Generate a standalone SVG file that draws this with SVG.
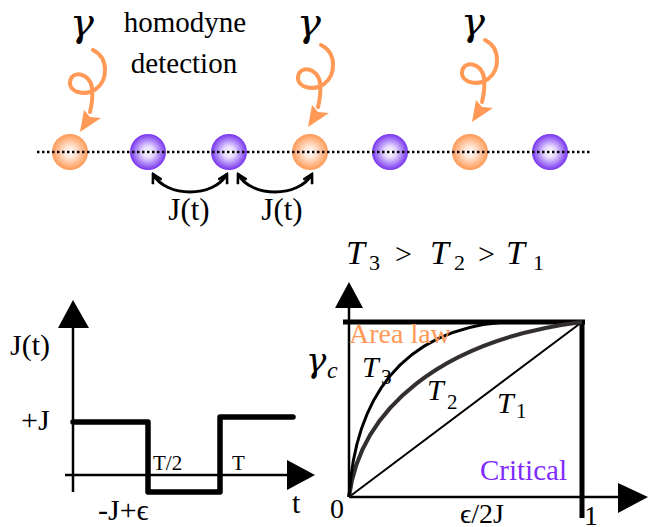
<svg xmlns="http://www.w3.org/2000/svg" width="657" height="527" viewBox="0 0 657 527">
<style>
.serif{font-family:"Liberation Serif","Times New Roman",serif;fill:#000}
.math{font-family:"Liberation Serif","Times New Roman",serif;font-style:italic;fill:#000}
.greek{font-family:"DejaVu Serif",serif;font-style:italic;fill:#000}
.curl{fill:none;stroke:#ff9955;stroke-width:4;stroke-linecap:round}
.ax{stroke:#000;stroke-width:2.5;fill:none}
.thick{stroke:#000;stroke-width:5.5;fill:none;stroke-linejoin:round;stroke-linecap:round}
.hop{fill:none;stroke:#000;stroke-width:3}
</style>
<defs>
<radialGradient id="go" cx="0.5" cy="0.5" r="0.5">
<stop offset="0" stop-color="#ffffff"/><stop offset="0.35" stop-color="#ffe2cf"/><stop offset="1" stop-color="#ff9955"/>
</radialGradient>
<radialGradient id="gp" cx="0.5" cy="0.5" r="0.5">
<stop offset="0" stop-color="#ffffff"/><stop offset="0.35" stop-color="#e2d4ff"/><stop offset="1" stop-color="#7733ee"/>
</radialGradient>
<marker id="vh" viewBox="0 0 12 12" refX="10" refY="6" markerWidth="12" markerHeight="12" markerUnits="userSpaceOnUse" orient="auto-start-reverse">
<path d="M1,1 L10,6 L1,11" fill="none" stroke="#000" stroke-width="2.6" stroke-linejoin="miter"/>
</marker>
<g id="curlshape">
<path class="curl" d="M93,50 C109,58 108,80 96,89 C86,96 69,93 70,82 C71,70 90,72 92,88 C93,96 92,104 90,112"/>
<polygon fill="#ff9955" points="80,132 84,110 90,117 101,118"/>
</g>
</defs>

<g id="site1"><circle cx="70" cy="152" r="18" fill="url(#go)"/></g>
<g id="site2"><circle cx="148" cy="152" r="18" fill="url(#gp)"/></g>
<g id="site3"><circle cx="229" cy="152" r="18" fill="url(#gp)"/></g>
<g id="site4"><circle cx="310" cy="152" r="18" fill="url(#go)"/></g>
<g id="site5"><circle cx="390" cy="152" r="18" fill="url(#gp)"/></g>
<g id="site6"><circle cx="470" cy="152" r="18" fill="url(#go)"/></g>
<g id="site7"><circle cx="550" cy="152" r="18" fill="url(#gp)"/></g>
<g id="chain">
<line x1="37" y1="152" x2="592" y2="152" stroke="#000" stroke-width="2.5" stroke-dasharray="2.5,2.5"/>
</g>

<g id="dissipation">
<text class="greek" x="82" y="36" font-size="40" text-anchor="middle">γ</text>
<text class="greek" x="309" y="36" font-size="40" text-anchor="middle">γ</text>
<text class="greek" x="473" y="35" font-size="40" text-anchor="middle">γ</text>
<use href="#curlshape"/>
<use href="#curlshape" transform="translate(228,-5)"/>
<use href="#curlshape" transform="translate(392,-10)"/>
</g>

<g id="homodyne">
<text class="serif" x="185" y="32" font-size="29" text-anchor="middle">homodyne</text>
<text class="serif" x="184" y="73" font-size="29" text-anchor="middle">detection</text>
</g>

<g id="connectors">
<path class="hop" d="M153,174 C166,198 214,198 227,174" marker-start="url(#vh)" marker-end="url(#vh)"/>
<path class="hop" d="M238,174 C251,198 299,198 312,174" marker-start="url(#vh)" marker-end="url(#vh)"/>
</g>
<g id="hoplabels">
<text class="serif" x="189" y="220" font-size="31" text-anchor="middle">J(t)</text>
<text class="serif" x="282" y="220" font-size="31" text-anchor="middle">J(t)</text>
</g>

<g id="protocol">
<line class="ax" x1="73" y1="326" x2="73" y2="492"/>
<polygon points="73,300 58,328 89,328"/>
<line class="ax" x1="65" y1="475" x2="290" y2="475"/>
<polygon points="315,475 287,460 287,490"/>
<polyline class="thick" points="73,422 148,422 148,492 220,492 220,417 293,417"/>
<text class="serif" x="10" y="355" font-size="30">J(t)</text>
<text class="serif" x="21" y="430" font-size="30">+J</text>
<text class="serif" x="153" y="470" font-size="21">T/2</text>
<text class="serif" x="232" y="470" font-size="21">T</text>
<text class="serif" x="98" y="520" font-size="30">-J+ϵ</text>
<text class="serif" x="292" y="513" font-size="30">t</text>
</g>

<g id="phase">
<line class="ax" x1="349" y1="305" x2="349" y2="497"/>
<polygon points="349,282 335,308 363,308"/>
<line class="ax" x1="349" y1="497" x2="620" y2="497"/>
<polygon points="648,497 618,483 618,513"/>
<line x1="343" y1="322" x2="585" y2="322" stroke="#000" stroke-width="5"/>
<line x1="582" y1="320" x2="582" y2="518" stroke="#000" stroke-width="5"/>
<line x1="349" y1="497" x2="582" y2="322" stroke="#000" stroke-width="2"/>
<path d="M349,497 C360,410 440,340 582,322" fill="none" stroke="#332f2f" stroke-width="4"/>
<path d="M349,497 C355,400 400,330 505,322" fill="none" stroke="#000" stroke-width="3"/>
<text class="serif" x="349" y="343" font-size="28" style="fill:#ff9955">Area law</text>
<text class="serif" x="480" y="480" font-size="29" style="fill:#7f2aff">Critical</text>
<text class="serif" x="330" y="518" font-size="28">0</text>
<text class="serif" x="460" y="523" font-size="28">ϵ/2J</text>
<text class="serif" x="584" y="525" font-size="28">1</text>
<text class="greek" x="306" y="372" font-size="34">γ</text>
<text class="math" x="327" y="378" font-size="24">c</text>
<text class="math" x="362" y="377" font-size="30">T</text>
<text class="serif" x="381" y="384" font-size="21">3</text>
<text class="math" x="427" y="400" font-size="30">T</text>
<text class="serif" x="447" y="409" font-size="21">2</text>
<text class="math" x="497" y="413" font-size="30">T</text>
<text class="serif" x="516" y="418" font-size="21">1</text>
<text class="math" x="346" y="264" font-size="34">T</text>
<text class="serif" x="369" y="270" font-size="22">3</text>
<text class="serif" x="395" y="264" font-size="30">&gt;</text>
<text class="math" x="430" y="264" font-size="34">T</text>
<text class="serif" x="454" y="270" font-size="22">2</text>
<text class="serif" x="478" y="264" font-size="30">&gt;</text>
<text class="math" x="506" y="264" font-size="34">T</text>
<text class="serif" x="533" y="270" font-size="22">1</text>
</g>
</svg>
